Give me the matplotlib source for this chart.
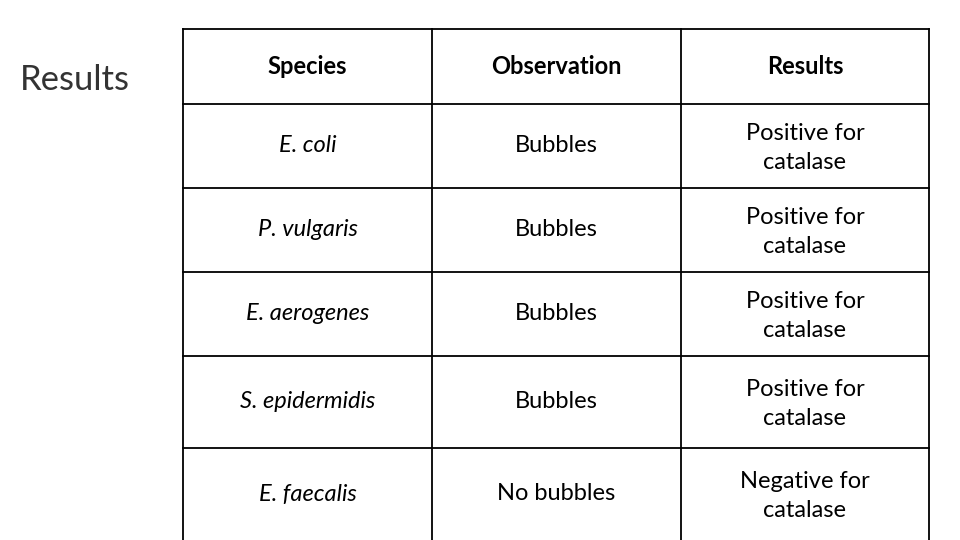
import matplotlib
matplotlib.use("Agg")
import matplotlib.pyplot as plt

headers = ["Species", "Observation", "Results"]
species = ["E. coli", "P. vulgaris", "E. aerogenes", "S. epidermidis", "E. faecalis"]
observations = ["Bubbles", "Bubbles", "Bubbles", "Bubbles", "No bubbles"]
results = ["Positive for\ncatalase", "Positive for\ncatalase", "Positive for\ncatalase",
           "Positive for\ncatalase", "Negative for\ncatalase"]

col_edges = [183, 432, 681, 929]
row_edges = [29, 104, 188, 272, 356, 448, 540]
res_y = [148, 232, 316, 404, 496]

fig = plt.figure(figsize=(9.6, 5.4), dpi=100)
ax = fig.add_axes([0, 0, 1, 1])
ax.set_xlim(0, 960); ax.set_ylim(540, 0); ax.axis("off")
font = "Lato"

ax.text(20, 80, "Results", fontsize=25, family=font, color="#333333", va="center", ha="left")

for x in col_edges:
    ax.plot([x, x], [row_edges[0], 545], color="black", lw=1.3)
for y in row_edges[:-1]:
    ax.plot([col_edges[0], col_edges[-1]], [y, y], color="black", lw=1.3)

cx = [(col_edges[i] + col_edges[i+1]) / 2 for i in range(3)]
hy = (row_edges[0] + row_edges[1]) / 2
for i, h in enumerate(headers):
    ax.text(cx[i], hy, h, fontsize=17, family=font, fontweight="bold", ha="center", va="center")
for r in range(len(species)):
    yc = (row_edges[r+1] + row_edges[r+2]) / 2
    ax.text(cx[0], yc, species[r], fontsize=17, family=font, style="italic", ha="center", va="center")
    ax.text(cx[1], yc, observations[r], fontsize=17, family=font, ha="center", va="center")
    ax.text(cx[2], res_y[r], results[r], fontsize=17, family=font, ha="center", va="center", linespacing=1.5)

fig.savefig("out.png", dpi=100)
